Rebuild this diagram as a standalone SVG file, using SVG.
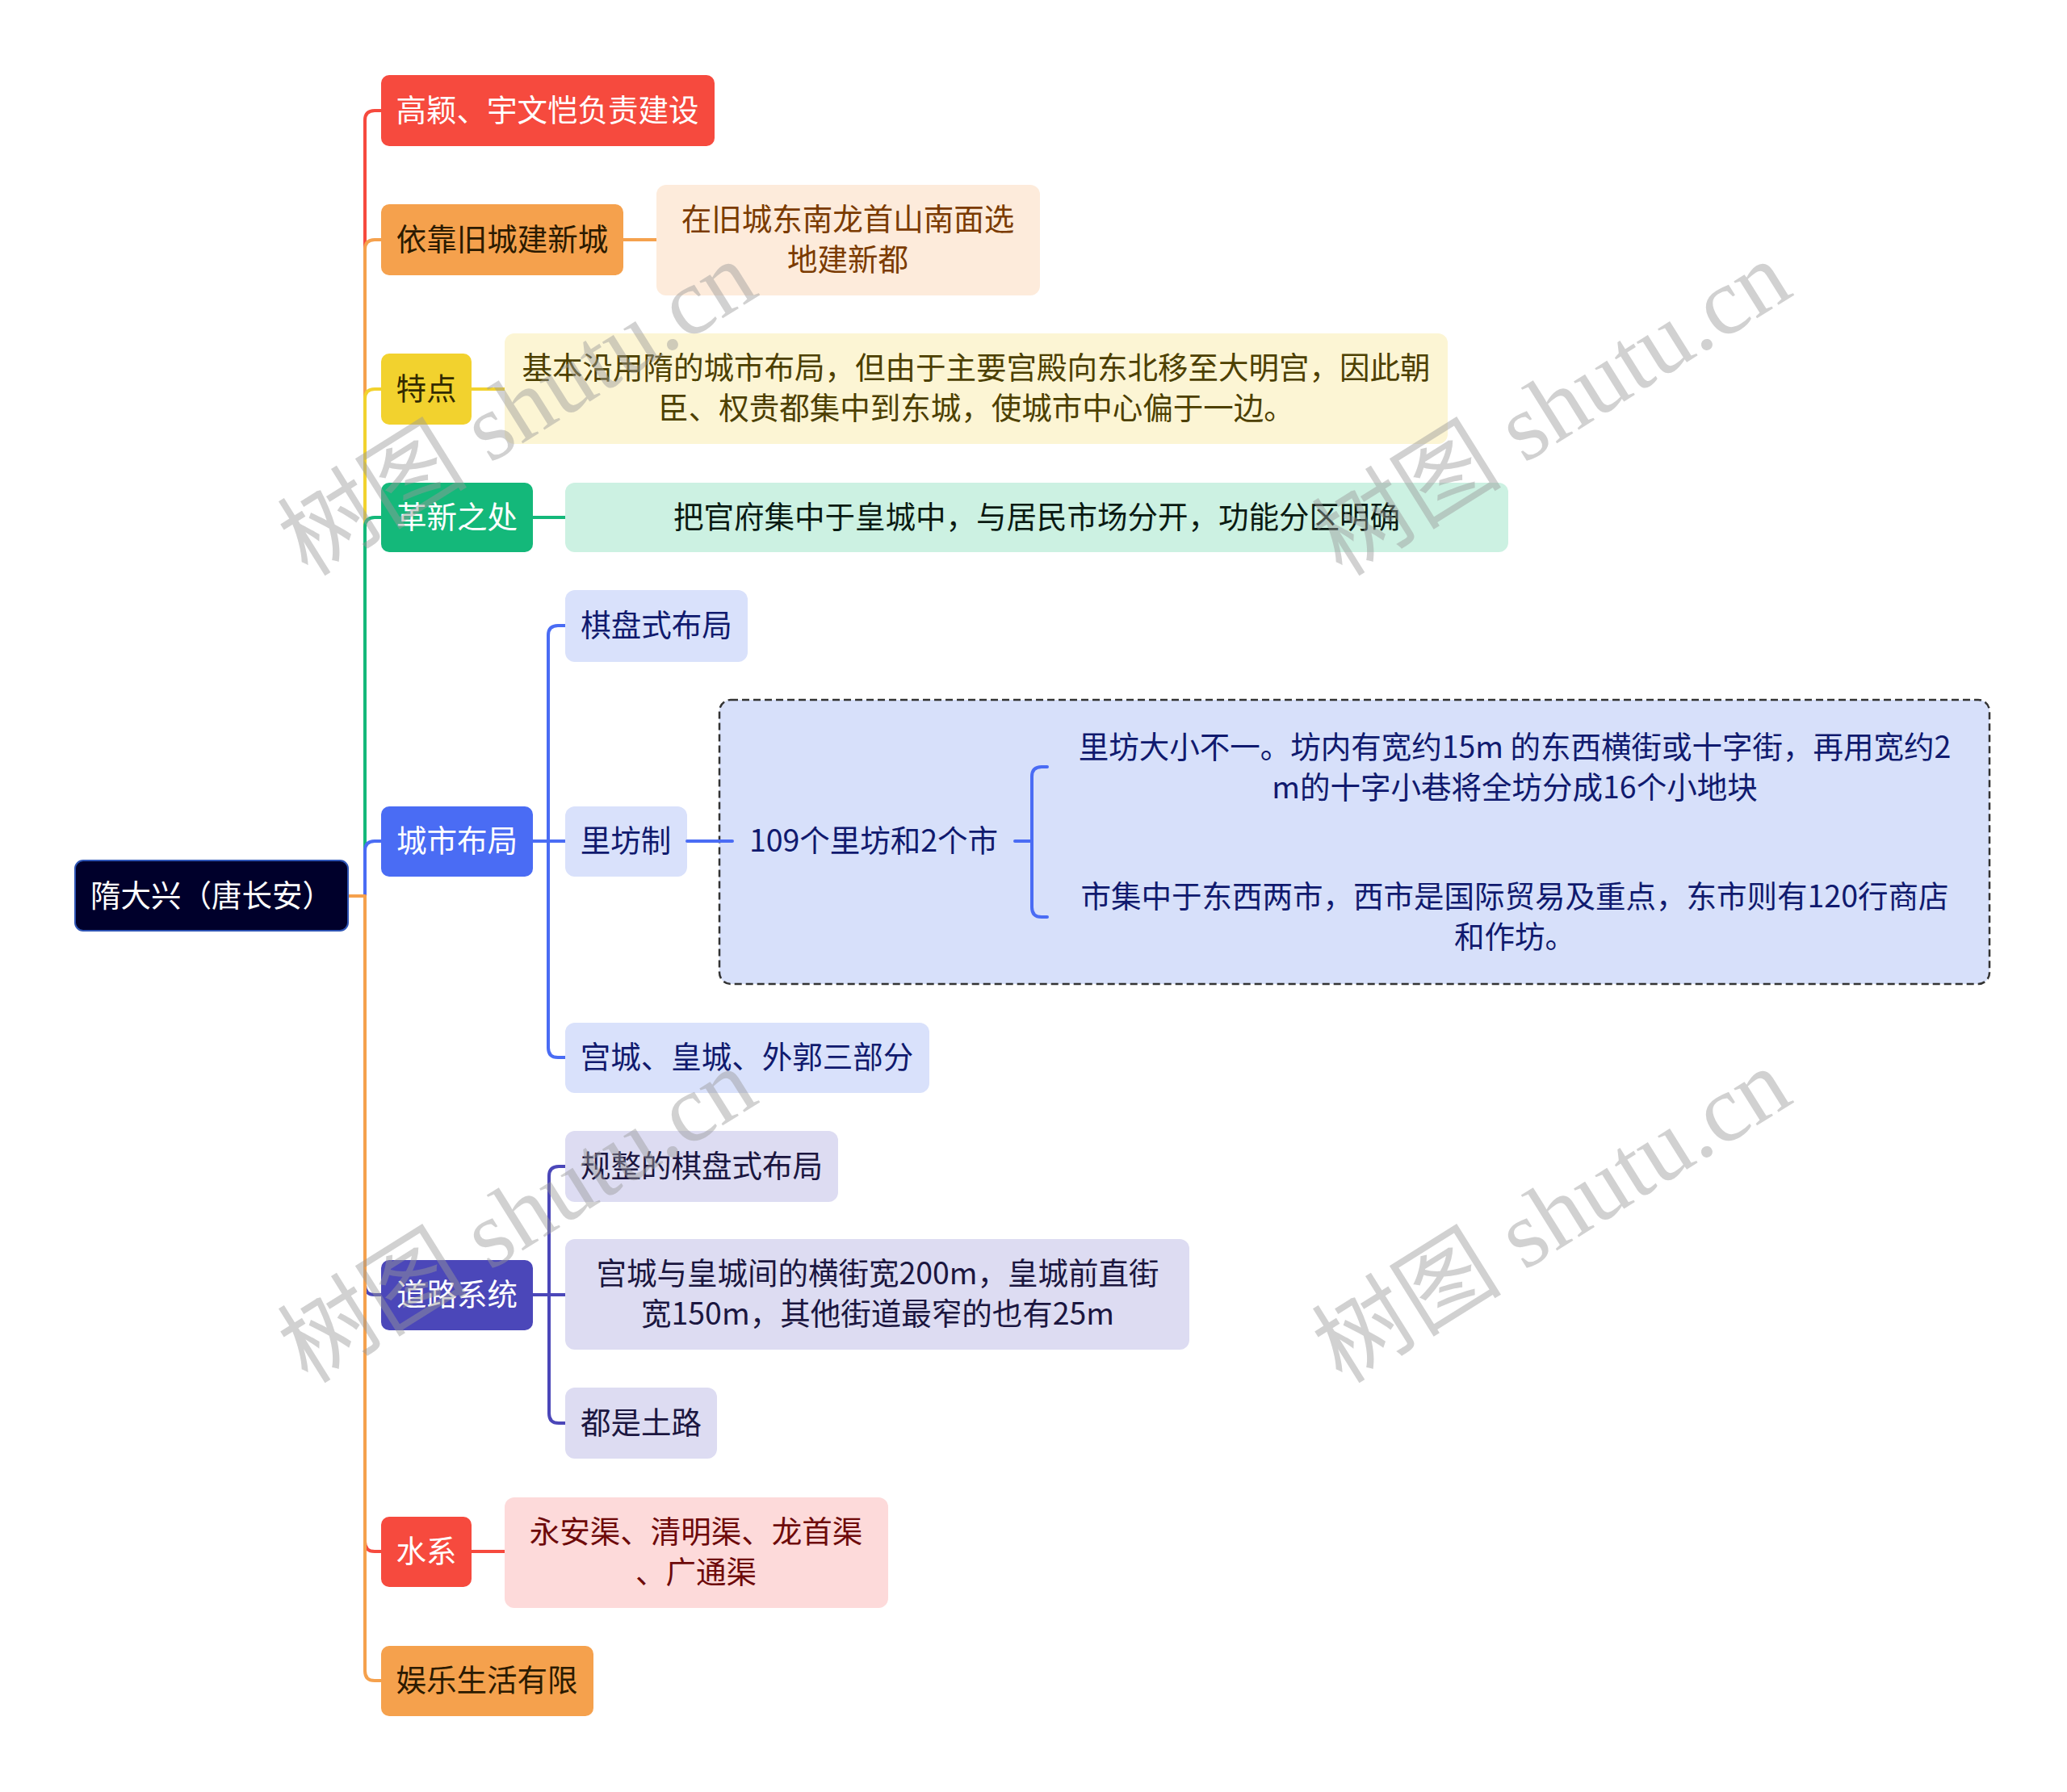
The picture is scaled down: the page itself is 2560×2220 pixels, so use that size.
<svg xmlns="http://www.w3.org/2000/svg" width="2560" height="2220" viewBox="0 0 2560 2220">
<style>
text{font-family:"Noto Sans CJK SC","Noto Sans",sans-serif;font-size:37.5px;text-anchor:middle}
.w{fill:#ffffff}
.ln{fill:none;stroke-width:4;stroke-linecap:round;stroke-linejoin:round}
.wm{font-family:"Liberation Serif","Noto Sans CJK SC",serif;font-size:118px;fill:#9a9a9a;fill-opacity:0.45}
</style>
<rect width="2560" height="2220" fill="#ffffff"/>
<g id="connectors">
<path class="ln" stroke="#F64A3E" d="M431 1110H452V149Q452 137 464 137H472"/>
<path class="ln" stroke="#F5A14D" d="M431 1110H452V309Q452 297 464 297H472"/>
<path class="ln" stroke="#F2D22E" d="M431 1110H452V494Q452 482 464 482H472"/>
<path class="ln" stroke="#14B87A" d="M431 1110H452V653Q452 641 464 641H472"/>
<path class="ln" stroke="#4A6CF4" d="M431 1110H452V1054Q452 1042 464 1042H472"/>
<path class="ln" stroke="#4B47B9" d="M431 1110H452V1592Q452 1604 464 1604H472"/>
<path class="ln" stroke="#F64A3E" d="M431 1110H452V1910Q452 1922 464 1922H472"/>
<path class="ln" stroke="#F5A14D" d="M431 1110H452V2070Q452 2082 464 2082H472"/>
<path class="ln" stroke="#F5A14D" d="M772 297H813"/>
<path class="ln" stroke="#F2D22E" d="M584 482H625"/>
<path class="ln" stroke="#14B87A" d="M660 641H700"/>
<path class="ln" stroke="#F64A3E" d="M584 1922H625"/>
<path class="ln" stroke="#4A6CF4" d="M660 1042H700M679 1042V787Q679 775 691 775H700M679 1042V1298Q679 1310 691 1310H700"/>
<path class="ln" stroke="#4B47B9" d="M660 1604H700M680 1604V1457Q680 1445 692 1445H700M680 1604V1751Q680 1763 692 1763H700"/>
</g>
<g id="root">
<rect x="93" y="1066" width="338" height="87" rx="10" fill="#00002B" stroke="#2F55B5" stroke-width="2"/>
<text class="w" x="262" y="1123">隋大兴（唐长安）</text>
</g>
<g id="n1">
<rect x="472" y="93" width="413" height="88" rx="10" fill="#F64A3E"/>
<text class="w" x="678" y="150">高颖、宇文恺负责建设</text>
</g>
<g id="n2">
<rect x="472" y="253" width="300" height="88" rx="10" fill="#F5A14D"/>
<text x="622" y="310" fill="#2B1A00">依靠旧城建新城</text>
</g>
<g id="n2c">
<rect x="813" y="229" width="475" height="137" rx="12" fill="#FDEBDB"/>
<text x="1050" y="285" fill="#7B3B00">在旧城东南龙首山南面选</text>
<text x="1050" y="335" fill="#7B3B00">地建新都</text>
</g>
<g id="n3">
<rect x="472" y="438" width="112" height="88" rx="10" fill="#F2D22E"/>
<text x="528" y="495" fill="#332B00">特点</text>
</g>
<g id="n3c">
<rect x="625" y="413" width="1168" height="137" rx="12" fill="#FCF5D4"/>
<text x="1209" y="469" fill="#4D4000">基本沿用隋的城市布局，但由于主要宫殿向东北移至大明宫，因此朝</text>
<text x="1209" y="519" fill="#4D4000">臣、权贵都集中到东城，使城市中心偏于一边。</text>
</g>
<g id="n4">
<rect x="472" y="598" width="188" height="86" rx="10" fill="#14B87A"/>
<text class="w" x="566" y="654">革新之处</text>
</g>
<g id="n4c">
<rect x="700" y="598" width="1168" height="86" rx="12" fill="#CCF1E2"/>
<text x="1284" y="654" fill="#0A1A12">把官府集中于皇城中，与居民市场分开，功能分区明确</text>
</g>
<g id="n5">
<rect x="472" y="999" width="188" height="87" rx="10" fill="#4A6CF4"/>
<text class="w" x="566" y="1055">城市布局</text>
</g>
<g id="n5a">
<rect x="700" y="731" width="226" height="89" rx="12" fill="#D9E1FB"/>
<text x="813" y="788" fill="#101A6E">棋盘式布局</text>
</g>
<g id="n5b">
<rect x="700" y="999" width="151" height="87" rx="12" fill="#D9E1FB"/>
<text x="775" y="1055" fill="#101A6E">里坊制</text>
</g>
<g id="n5b-group">
<rect x="891" y="867" width="1573" height="352" rx="14" fill="#D7E0FA" stroke="#333333" stroke-width="2.5" stroke-dasharray="9 5"/>
</g>
<g id="connectors-inner">
<path class="ln" stroke="#4A6CF4" d="M851 1042H907M1257 1042H1278M1278 1042V962Q1278 950 1290 950H1297M1278 1042V1124Q1278 1136 1290 1136H1297"/>
</g>
<g id="n5b1">
<text x="1082" y="1055" fill="#101A6E">109个里坊和2个市</text>
</g>
<g id="n5b1a">
<text x="1876" y="939" fill="#101A6E">里坊大小不一。坊内有宽约15m 的东西横街或十字街，再用宽约2</text>
<text x="1876" y="989" fill="#101A6E">m的十字小巷将全坊分成16个小地块</text>
</g>
<g id="n5b1b">
<text x="1876" y="1124" fill="#101A6E">市集中于东西两市，西市是国际贸易及重点，东市则有120行商店</text>
<text x="1876" y="1174" fill="#101A6E">和作坊。</text>
</g>
<g id="n5c">
<rect x="700" y="1267" width="451" height="87" rx="12" fill="#D9E1FB"/>
<text x="925" y="1323" fill="#101A6E">宫城、皇城、外郭三部分</text>
</g>
<g id="n6">
<rect x="472" y="1561" width="188" height="87" rx="10" fill="#4B47B9"/>
<text class="w" x="566" y="1617">道路系统</text>
</g>
<g id="n6a">
<rect x="700" y="1401" width="338" height="88" rx="12" fill="#DDDCF2"/>
<text x="869" y="1458" fill="#1B1640">规整的棋盘式布局</text>
</g>
<g id="n6b">
<rect x="700" y="1535" width="773" height="137" rx="12" fill="#DDDCF2"/>
<text x="1087" y="1591" fill="#1B1640">宫城与皇城间的横街宽200m，皇城前直街</text>
<text x="1087" y="1641" fill="#1B1640">宽150m，其他街道最窄的也有25m</text>
</g>
<g id="n6c">
<rect x="700" y="1719" width="188" height="88" rx="12" fill="#DDDCF2"/>
<text x="794" y="1776" fill="#1B1640">都是土路</text>
</g>
<g id="n7">
<rect x="472" y="1879" width="112" height="87" rx="10" fill="#F64A3E"/>
<text class="w" x="528" y="1935">水系</text>
</g>
<g id="n7c">
<rect x="625" y="1855" width="475" height="137" rx="12" fill="#FDDADA"/>
<text x="862" y="1911" fill="#6E0A0A">永安渠、清明渠、龙首渠</text>
<text x="862" y="1961" fill="#6E0A0A">、广通渠</text>
</g>
<g id="n8">
<rect x="472" y="2039" width="263" height="87" rx="10" fill="#F5A14D"/>
<text x="603" y="2095" fill="#2B1A00">娱乐生活有限</text>
</g>
<g id="watermarks">
<text class="wm" transform="translate(662 540) rotate(-32)">树图 shutu.cn</text>
<text class="wm" transform="translate(1943 540) rotate(-32)">树图 shutu.cn</text>
<text class="wm" transform="translate(662 1540) rotate(-32)">树图 shutu.cn</text>
<text class="wm" transform="translate(1943 1540) rotate(-32)">树图 shutu.cn</text>
</g>
</svg>
